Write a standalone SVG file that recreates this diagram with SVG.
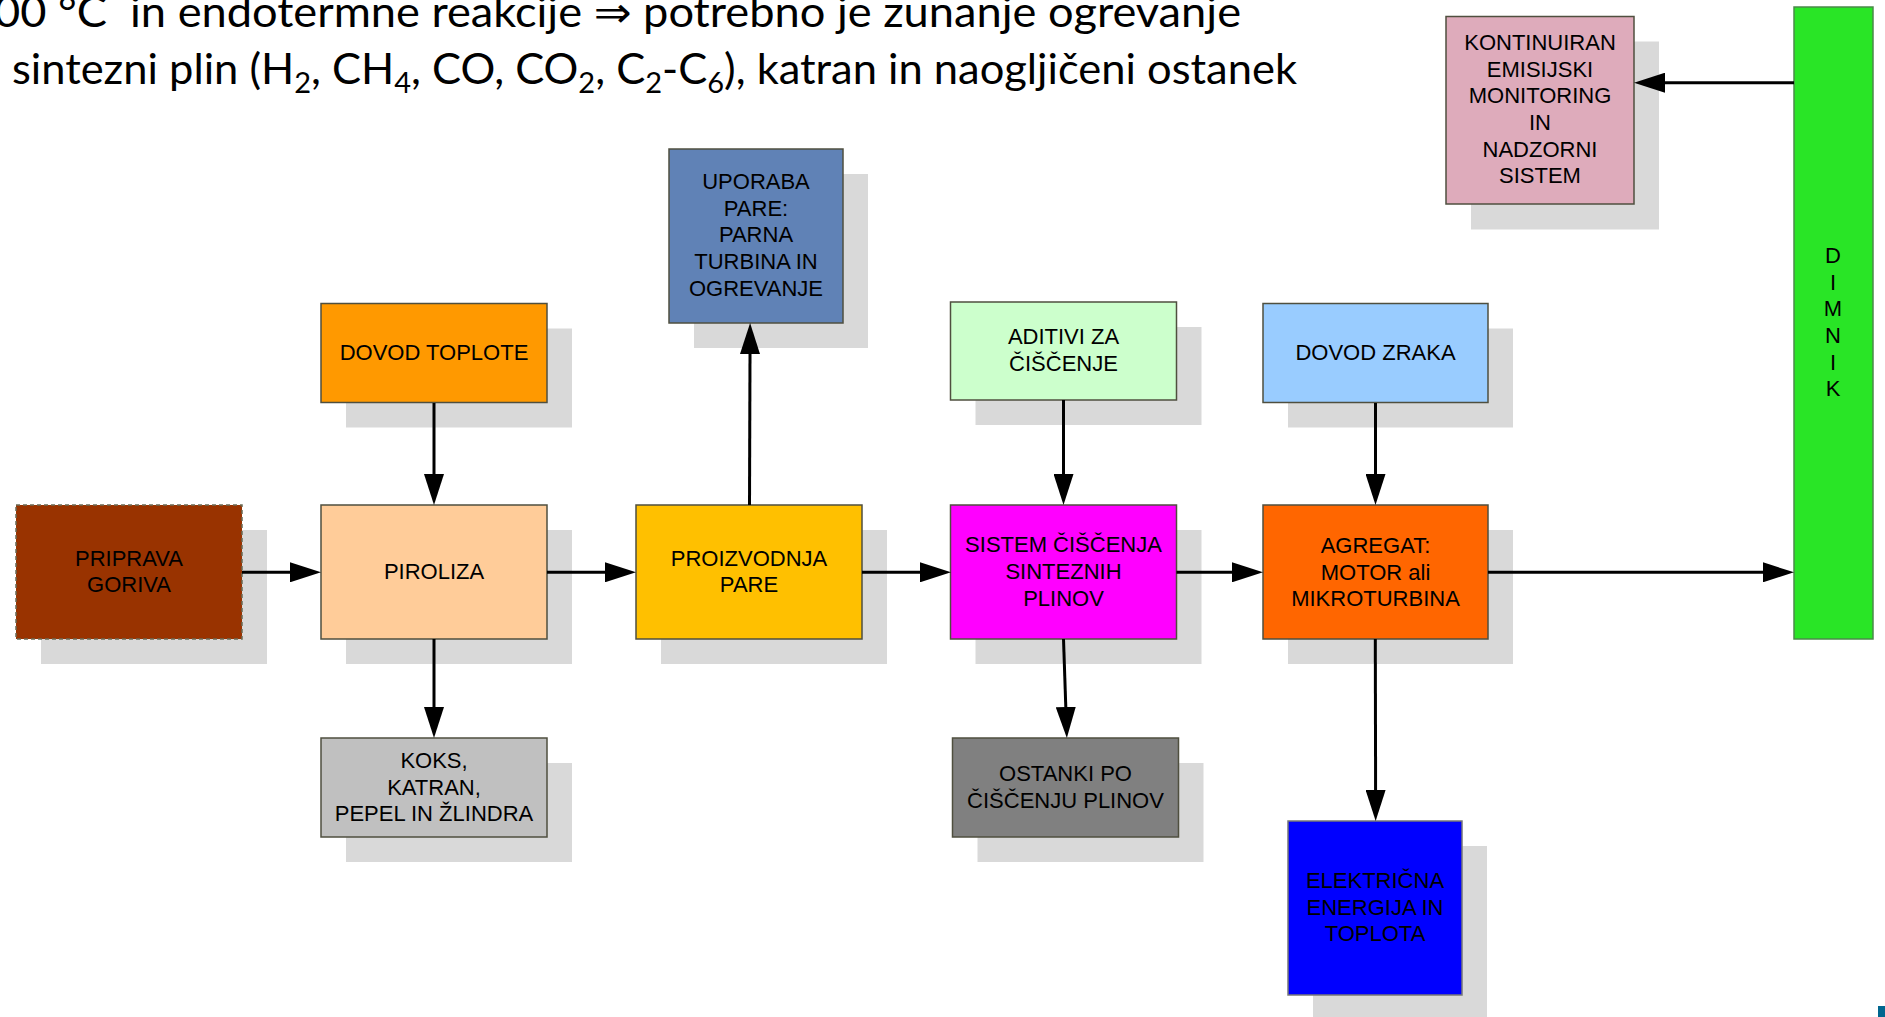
<svg xmlns="http://www.w3.org/2000/svg" width="1885" height="1017" viewBox="0 0 1885 1017">
<style>
  .sh { fill: #D9D9D9; }
  .bx { stroke: #4f4f3f; stroke-width: 1.5; }
  .lbl { font-family: "Liberation Sans", Arial, sans-serif; font-size: 22px; fill: #000; text-anchor: middle; }
  .con { fill: none; stroke: #000; stroke-width: 3; }
  .top { font-family: Lato, "Liberation Sans", "DejaVu Sans", sans-serif; font-size: 42px; fill: #000; white-space: pre; }
  .sub { font-size: 28px; }
</style>
<defs>
  <marker id="ah" markerUnits="userSpaceOnUse" markerWidth="31" markerHeight="20" refX="0" refY="10" orient="auto">
    <path d="M0,0 L31,10 L0,20 Z" fill="#000"/>
  </marker>
</defs>
<rect width="1885" height="1017" fill="#fff"/>

<g id="heading">
  <text class="top" x="-6" y="26.7" textLength="1247" lengthAdjust="spacingAndGlyphs">00 °C  in endotermne reakcije ⇒ potrebno je zunanje ogrevanje</text>
  <text class="top" x="12" y="83.5" textLength="1285" lengthAdjust="spacingAndGlyphs">sintezni plin (H<tspan class="sub" dy="9">2</tspan><tspan dy="-9">, CH</tspan><tspan class="sub" dy="9">4</tspan><tspan dy="-9">, CO, CO</tspan><tspan class="sub" dy="9">2</tspan><tspan dy="-9">, C</tspan><tspan class="sub" dy="9">2</tspan><tspan dy="-9">-C</tspan><tspan class="sub" dy="9">6</tspan><tspan dy="-9">), katran in naogljičeni ostanek</tspan></text>
</g>

<g id="priprava-goriva">
  <rect class="sh" x="41" y="530" width="226" height="134"/>
  <rect x="16" y="505" width="226" height="134" fill="#993300" stroke="#6b6b55" stroke-width="1.5" stroke-dasharray="4 3"/>
  <text class="lbl"><tspan x="129" y="565.5">PRIPRAVA</tspan><tspan x="129" y="592">GORIVA</tspan></text>
</g>

<g id="piroliza">
  <rect class="sh" x="346" y="530" width="226" height="134"/>
  <rect class="bx" x="321" y="505" width="226" height="134" fill="#FFCC99"/>
  <text class="lbl" x="434" y="579">PIROLIZA</text>
</g>

<g id="dovod-toplote">
  <rect class="sh" x="346" y="328.5" width="226" height="99"/>
  <rect class="bx" x="321" y="303.5" width="226" height="99" fill="#FF9900"/>
  <text class="lbl" x="434" y="360">DOVOD TOPLOTE</text>
</g>

<g id="koks">
  <rect class="sh" x="346" y="763" width="226" height="99"/>
  <rect class="bx" x="321" y="738" width="226" height="99" fill="#C0C0C0"/>
  <text class="lbl"><tspan x="434" y="768">KOKS,</tspan><tspan x="434" y="794.6">KATRAN,</tspan><tspan x="434" y="821.2">PEPEL IN ŽLINDRA</tspan></text>
</g>

<g id="uporaba-pare">
  <rect class="sh" x="694" y="174" width="174" height="174"/>
  <rect class="bx" x="669" y="149" width="174" height="174" fill="#6082B6"/>
  <text class="lbl"><tspan x="756" y="188.8">UPORABA</tspan><tspan x="756" y="215.6">PARE:</tspan><tspan x="756" y="242.4">PARNA</tspan><tspan x="756" y="269.2">TURBINA IN</tspan><tspan x="756" y="296">OGREVANJE</tspan></text>
</g>

<g id="proizvodnja-pare">
  <rect class="sh" x="661" y="530" width="226" height="134"/>
  <rect class="bx" x="636" y="505" width="226" height="134" fill="#FFC000"/>
  <text class="lbl"><tspan x="749" y="566">PROIZVODNJA</tspan><tspan x="749" y="592.3">PARE</tspan></text>
</g>

<g id="aditivi">
  <rect class="sh" x="975.5" y="327" width="226" height="98"/>
  <rect class="bx" x="950.5" y="302" width="226" height="98" fill="#CCFFCC"/>
  <text class="lbl"><tspan x="1063.5" y="344.2">ADITIVI ZA</tspan><tspan x="1063.5" y="371">ČIŠČENJE</tspan></text>
</g>

<g id="sistem-ciscenja">
  <rect class="sh" x="975.5" y="530" width="226" height="134"/>
  <rect class="bx" x="950.5" y="505" width="226" height="134" fill="#FF00FF"/>
  <text class="lbl"><tspan x="1063.5" y="552">SISTEM ČIŠČENJA</tspan><tspan x="1063.5" y="579.3">SINTEZNIH</tspan><tspan x="1063.5" y="606.3">PLINOV</tspan></text>
</g>

<g id="ostanki">
  <rect class="sh" x="977.5" y="763" width="226" height="99"/>
  <rect class="bx" x="952.5" y="738" width="226" height="99" fill="#808080"/>
  <text class="lbl"><tspan x="1065.5" y="781.2">OSTANKI PO</tspan><tspan x="1065.5" y="808">ČIŠČENJU PLINOV</tspan></text>
</g>

<g id="dovod-zraka">
  <rect class="sh" x="1288" y="328.5" width="225" height="99"/>
  <rect class="bx" x="1263" y="303.5" width="225" height="99" fill="#99CCFF"/>
  <text class="lbl" x="1375.5" y="360">DOVOD ZRAKA</text>
</g>

<g id="agregat">
  <rect class="sh" x="1288" y="530" width="225" height="134"/>
  <rect class="bx" x="1263" y="505" width="225" height="134" fill="#FF6600"/>
  <text class="lbl"><tspan x="1375.5" y="553">AGREGAT:</tspan><tspan x="1375.5" y="579.6">MOTOR ali</tspan><tspan x="1375.5" y="606.2">MIKROTURBINA</tspan></text>
</g>

<g id="elektricna-energija">
  <rect class="sh" x="1313" y="846" width="174" height="174"/>
  <rect x="1288" y="821" width="174" height="174" fill="#0000FF" stroke="#777" stroke-width="1.5"/>
  <text class="lbl"><tspan x="1375" y="888">ELEKTRIČNA</tspan><tspan x="1375" y="914.6">ENERGIJA IN</tspan><tspan x="1375" y="941.2">TOPLOTA</tspan></text>
</g>

<g id="kontinuiran-monitoring">
  <rect class="sh" x="1471" y="41.5" width="188" height="188"/>
  <rect class="bx" x="1446" y="16.5" width="188" height="187.5" fill="#DEABBB"/>
  <text class="lbl"><tspan x="1540" y="50">KONTINUIRAN</tspan><tspan x="1540" y="76.7">EMISIJSKI</tspan><tspan x="1540" y="103.3">MONITORING</tspan><tspan x="1540" y="130">IN</tspan><tspan x="1540" y="156.7">NADZORNI</tspan><tspan x="1540" y="183.3">SISTEM</tspan></text>
</g>

<g id="dimnik">
  <rect x="1794" y="7" width="79" height="632" fill="#29E526" stroke="#4a8a4a" stroke-width="1.5"/>
  <text class="lbl"><tspan x="1833" y="263">D</tspan><tspan x="1833" y="289.6">I</tspan><tspan x="1833" y="316.2">M</tspan><tspan x="1833" y="342.9">N</tspan><tspan x="1833" y="369.6">I</tspan><tspan x="1833" y="396.2">K</tspan></text>
</g>

<g id="connectors">
  <path class="con" d="M242,572.3 H290" marker-end="url(#ah)"/>
  <path class="con" d="M434,403 V474" marker-end="url(#ah)"/>
  <path class="con" d="M434,639 V707" marker-end="url(#ah)"/>
  <path class="con" d="M547,572.3 H605" marker-end="url(#ah)"/>
  <path class="con" d="M749.5,505 L750,354" marker-end="url(#ah)"/>
  <path class="con" d="M862,572.3 H920" marker-end="url(#ah)"/>
  <path class="con" d="M1063.5,400 V474" marker-end="url(#ah)"/>
  <path class="con" d="M1063.5,639 L1065.8,707" marker-end="url(#ah)"/>
  <path class="con" d="M1176.5,572.3 H1232" marker-end="url(#ah)"/>
  <path class="con" d="M1375.5,403 V474" marker-end="url(#ah)"/>
  <path class="con" d="M1375.3,639 L1375.6,790" marker-end="url(#ah)"/>
  <path class="con" d="M1488,572.3 H1763" marker-end="url(#ah)"/>
  <path class="con" d="M1794,82.7 H1665" marker-end="url(#ah)"/>
</g>

<rect id="corner-mark" x="1878" y="1006" width="7" height="11" fill="#00668F"/>
</svg>
